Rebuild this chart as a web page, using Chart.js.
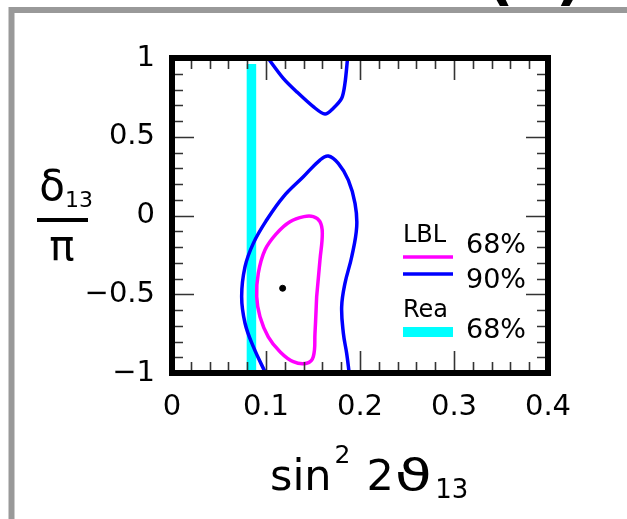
<!DOCTYPE html>
<html>
<head>
<meta charset="utf-8">
<script src="https://cdn.jsdelivr.net/npm/chart.js@4.4.1/dist/chart.umd.min.js"></script>
<style>
  html, body { margin: 0; padding: 0; background: #fff; }
  #wrap { width: 627px; height: 519px; }
</style>
</head>
<body>
<div id="wrap"><canvas id="chart" width="627" height="519"></canvas></div>
<script>
// --- data ---

const X_TICKS = [0, 0.1, 0.2, 0.3, 0.4];
const Y_TICKS = [-1, -0.5, 0, 0.5, 1];

// LBL 68% contour (closed)
const LBL68_X = [0.1539, 0.1574, 0.1599, 0.1574, 0.1503, 0.1404, 0.1255, 0.1114, 0.0989, 0.0918,
                 0.0901, 0.0936, 0.1024, 0.1149, 0.1290, 0.1433, 0.1503, 0.1521, 0.1539];
const LBL68_Y = [-0.515, -0.283, -0.113, -0.039, -0.007, -0.007, -0.039, -0.113, -0.219, -0.367,
                 -0.515, -0.643, -0.770, -0.865, -0.928, -0.938, -0.897, -0.748, -0.515];

// LBL 90% contour, lower branch
const LBL90_LOW_X = [0.0995, 0.0865, 0.0777, 0.0741, 0.0777, 0.0865, 0.1007, 0.1184, 0.1397, 0.1574, 0.1663,
                     0.1769, 0.1876, 0.1947, 0.1965, 0.1912, 0.1840, 0.1805, 0.1823, 0.1858, 0.1885];
const LBL90_LOW_Y = [-1, -0.833, -0.684, -0.515, -0.325, -0.177, -0.029, 0.119, 0.246, 0.352, 0.378,
                     0.331, 0.225, 0.077, -0.071, -0.262, -0.431, -0.579, -0.748, -0.875, -1];

// LBL 90% contour, upper island
const LBL90_TOP_X = [0.1020, 0.1184, 0.1326, 0.1503, 0.1628, 0.1716, 0.1805, 0.1840, 0.1868];
const LBL90_TOP_Y = [1, 0.871, 0.786, 0.691, 0.644, 0.681, 0.744, 0.839, 1];

// Reactor 68% band
const REA68_X = [0.0845, 0.0845];
const REA68_Y = [0.962, -0.981];

// best fit point
const BEST_X = [0.1177];
const BEST_Y = [-0.462];

const FONT = "'DejaVu Sans', sans-serif";

function pairs(xs, ys) {
  return xs.map(function (x, i) {
    return { x: x, y: ys[i] };
  });
}

function fmt(v) {
  return String(v).replace("-", "\u2212");
}

// --- decorations: frame, box, inward ticks, legend, titles ---

const decorPlugin = {
  id: "decor",
  beforeDraw: function (chart) {
    const ctx = chart.ctx;
    ctx.save();
    // grey panel frame
    ctx.strokeStyle = "#999999";
    ctx.lineWidth = 6;
    ctx.lineJoin = "miter";
    ctx.beginPath();
    ctx.moveTo(11.5, 519);
    ctx.lineTo(11.5, 10);
    ctx.lineTo(627, 10);
    ctx.stroke();
    // panel label, cut off at the top: only the paren tips show
    ctx.fillStyle = "#000";
    ctx.font = "600 60px " + FONT;
    ctx.textBaseline = "alphabetic";
    ctx.textAlign = "left";
    const d = ctx.measureText("(").actualBoundingBoxDescent;
    const base = 7 - Math.max(d, 6);
    ctx.fillText("(", 486, base);
    ctx.fillText("b", 512, base);
    ctx.fillText(")", 556, base);
    ctx.restore();
  },
  afterDatasetsDraw: function (chart) {
    const ctx = chart.ctx;
    const a = chart.chartArea;
    const xs = chart.scales.x;
    const ys = chart.scales.y;
    ctx.save();

    // inward ticks on all four sides
    ctx.strokeStyle = "#333";
    ctx.lineWidth = 1.6;
    ctx.beginPath();
    for (let i = 1; i < 20; i++) {
      const px = Math.round(xs.getPixelForValue(i * 0.02)) + 0.5;
      const len = i % 5 === 0 ? 22 : 11;
      ctx.moveTo(px, a.bottom);
      ctx.lineTo(px, a.bottom - len);
      ctx.moveTo(px, a.top);
      ctx.lineTo(px, a.top + len);
    }
    for (let i = -9; i < 10; i++) {
      const py = Math.round(ys.getPixelForValue(i / 10)) + 0.5;
      const len = i % 5 === 0 ? 22 : 11;
      ctx.moveTo(a.left, py);
      ctx.lineTo(a.left + len, py);
      ctx.moveTo(a.right, py);
      ctx.lineTo(a.right - len, py);
    }
    ctx.stroke();

    // thick plot box
    ctx.strokeStyle = "#000";
    ctx.lineWidth = 6;
    ctx.lineJoin = "miter";
    ctx.strokeRect(a.left, a.top, a.right - a.left, a.bottom - a.top);

    // legend inside the plot
    ctx.fillStyle = "#000";
    ctx.textBaseline = "alphabetic";
    ctx.textAlign = "left";
    ctx.font = "24px " + FONT;
    ctx.fillText("LBL", 403, 242);
    ctx.fillText("Rea", 403, 317);
    ctx.font = "27px " + FONT;
    ctx.fillText("68%", 466, 253);
    ctx.fillText("90%", 466, 288);
    ctx.fillText("68%", 466, 338);

    ctx.lineCap = "butt";
    ctx.lineWidth = 3.5;
    ctx.strokeStyle = "#ff00ff";
    ctx.beginPath();
    ctx.moveTo(403, 257);
    ctx.lineTo(453, 257);
    ctx.stroke();
    ctx.strokeStyle = "#0000ff";
    ctx.beginPath();
    ctx.moveTo(403, 274);
    ctx.lineTo(453, 274);
    ctx.stroke();
    ctx.fillStyle = "#00ffff";
    ctx.fillRect(403, 327, 50, 10);

    // x axis title: sin^2 2θ_13
    ctx.fillStyle = "#000";
    let cx = 270;
    ctx.font = "43px " + FONT;
    ctx.fillText("sin", cx, 490);
    cx += ctx.measureText("sin").width + 3;
    ctx.font = "25px " + FONT;
    ctx.fillText("2", cx, 463);
    cx += ctx.measureText("2").width + 16;
    ctx.font = "43px " + FONT;
    ctx.fillText("2", cx, 490);
    cx += ctx.measureText("2").width + 1;
    // the script theta is wider in the original, stretch it a little
    const tw = ctx.measureText("\u03D1").width;
    ctx.save();
    ctx.translate(cx, 490);
    ctx.scale(1.4, 1);
    ctx.fillText("\u03D1", 0, 0);
    ctx.restore();
    cx += tw * 1.4 + 3;
    ctx.font = "26px " + FONT;
    ctx.fillText("13", cx, 498);

    // y axis title: δ_13 / π
    ctx.font = "42px " + FONT;
    ctx.textAlign = "center";
    ctx.fillText("\u03B4", 52, 200);
    ctx.fillText("\u03C0", 62, 260);
    ctx.textAlign = "left";
    ctx.font = "22px " + FONT;
    ctx.fillText("13", 65, 207);
    ctx.lineWidth = 4;
    ctx.strokeStyle = "#000";
    ctx.beginPath();
    ctx.moveTo(37, 220);
    ctx.lineTo(88, 220);
    ctx.stroke();

    ctx.restore();
  },
};

// --- chart ---

const ctx = document.getElementById("chart").getContext("2d");

new Chart(ctx, {
  type: "scatter",
  data: {
    datasets: [
      {
        label: "best fit",
        data: pairs(BEST_X, BEST_Y),
        pointRadius: 3,
        pointBackgroundColor: "#000",
        pointBorderColor: "#000",
        showLine: false,
      },
      {
        label: "LBL 68%",
        data: pairs(LBL68_X, LBL68_Y),
        showLine: true,
        borderColor: "#ff00ff",
        borderWidth: 3.5,
        pointRadius: 0,
        tension: 0.4,
      },
      {
        label: "LBL 90%",
        data: pairs(LBL90_LOW_X, LBL90_LOW_Y),
        showLine: true,
        borderColor: "#0000ff",
        borderWidth: 3.5,
        pointRadius: 0,
        tension: 0.4,
      },
      {
        label: "LBL 90% (upper)",
        data: pairs(LBL90_TOP_X, LBL90_TOP_Y),
        showLine: true,
        borderColor: "#0000ff",
        borderWidth: 3.5,
        pointRadius: 0,
        tension: 0.3,
      },
      {
        label: "Rea 68%",
        data: pairs(REA68_X, REA68_Y),
        showLine: true,
        borderColor: "#00ffff",
        borderWidth: 9.5,
        borderCapStyle: "butt",
        pointRadius: 0,
        tension: 0,
      },
    ],
  },
  options: {
    responsive: false,
    animation: false,
    devicePixelRatio: 1,
    layout: { padding: { left: 0, top: 58, right: 79, bottom: 86 } },
    plugins: {
      legend: { display: false },
      tooltip: { enabled: false },
    },
    scales: {
      x: {
        type: "linear",
        min: 0,
        max: 0.4,
        afterBuildTicks: function (scale) {
          scale.ticks = X_TICKS.map(function (v) { return { value: v }; });
        },
        afterFit: function (scale) { scale.height = 60; },
        grid: { display: false, drawTicks: false },
        border: { display: false },
        ticks: {
          autoSkip: false,
          maxRotation: 0,
          padding: 17,
          color: "#000",
          font: { family: FONT, size: 29 },
          callback: function (v) { return fmt(v); },
        },
      },
      y: {
        type: "linear",
        min: -1,
        max: 1,
        afterBuildTicks: function (scale) {
          scale.ticks = Y_TICKS.map(function (v) { return { value: v }; });
        },
        afterFit: function (scale) { scale.width = 172; },
        grid: { display: false, drawTicks: false },
        border: { display: false },
        ticks: {
          autoSkip: false,
          padding: 17,
          color: "#000",
          font: { family: FONT, size: 29 },
          callback: function (v) { return fmt(v); },
        },
      },
    },
  },
  plugins: [decorPlugin],
});
</script>
</body>
</html>
